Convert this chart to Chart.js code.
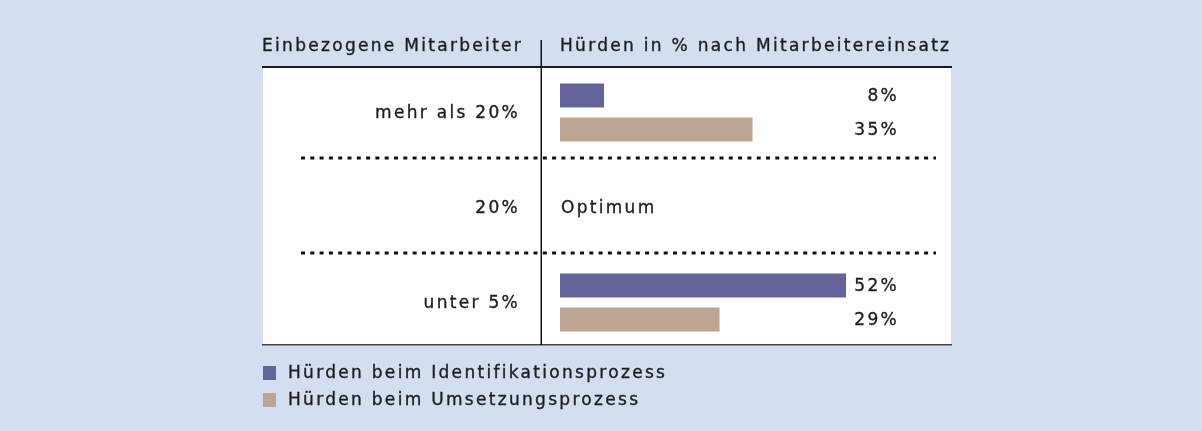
<!DOCTYPE html>
<html>
<head>
<meta charset="utf-8">
<script src="https://cdn.jsdelivr.net/npm/chart.js@4"></script>
<style>
body { margin: 0; background: #d3def0; }
</style>
</head>
<body>
<canvas id="chart" width="1202" height="431"></canvas>
<script>
const categories = ['mehr als 20%', '20%', 'unter 5%'];
const seriesNames = ['Hürden beim Identifikationsprozess', 'Hürden beim Umsetzungsprozess'];
const identifikation = [8, null, 52];
const umsetzung = [35, null, 29];
const headerLeft = 'Einbezogene Mitarbeiter';
const headerRight = 'Hürden in % nach Mitarbeitereinsatz';
const middleNote = 'Optimum';

const colors = ['#63649a', '#bea592'];
const textColor = '#1e1e1e';
const fontFamily = '"DejaVu Sans", sans-serif';

function label(ctx, text, x, y, align) {
    ctx.save();
    ctx.letterSpacing = '2.3px';
    ctx.font = '17px ' + fontFamily;
    ctx.fillStyle = textColor;
    ctx.strokeStyle = textColor;
    ctx.lineWidth = 0.35;
    ctx.textAlign = align || 'left';
    ctx.textBaseline = 'middle';
    ctx.fillText(text, x, y + 1);
    ctx.strokeText(text, x, y + 1);
    ctx.restore();
}

const framePlugin = {
    id: 'frame',
    beforeDraw(chart) {
        let ctx = chart.ctx;
        ctx.save();
        ctx.fillStyle = '#d3def0';
        ctx.fillRect(0, 0, chart.width, chart.height);
        // white panel
        ctx.fillStyle = '#ffffff';
        ctx.fillRect(263, 68, 688, 277);
        ctx.restore();
    },
    afterDraw(chart) {
        let ctx = chart.ctx;
        let y = chart.scales.y;
        ctx.save();
        // header rule and bottom rule
        ctx.fillStyle = '#1a1a1a';
        ctx.fillRect(262, 66, 690, 2);
        ctx.fillStyle = '#444';
        ctx.fillRect(262, 344, 690, 1.5);
        // vertical divider
        ctx.fillStyle = '#111';
        ctx.fillRect(540.5, 40, 1.5, 305);
        // dotted separators between categories
        ctx.strokeStyle = '#111';
        ctx.lineWidth = 3;
        ctx.setLineDash([4, 5.3]);
        for (let i = 0; i < categories.length - 1; i++) {
            let py = Math.round((y.getPixelForValue(i) + y.getPixelForValue(i + 1)) / 2) - 2;
            ctx.beginPath();
            ctx.moveTo(301, py);
            ctx.lineTo(936, py);
            ctx.stroke();
        }
        ctx.restore();

        label(ctx, headerLeft, 262, 46);
        label(ctx, headerRight, 560, 46);

        // category labels
        categories.forEach((c, i) => {
            label(ctx, c, 520, y.getPixelForValue(i), 'right');
        });

        // value labels
        chart.data.datasets.forEach((ds, i) => {
            chart.getDatasetMeta(i).data.forEach((bar, j) => {
                if (ds.data[j] == null) return;
                label(ctx, ds.data[j] + '%', 899, bar.y, 'right');
            });
        });
        label(ctx, middleNote, 561, y.getPixelForValue(1));

        // legend
        chart.data.datasets.forEach((ds, i) => {
            let ly = 373 + i * 27;
            ctx.save();
            ctx.fillStyle = ds.backgroundColor;
            ctx.fillRect(263, ly - 7, 13, 14);
            ctx.restore();
            label(ctx, ds.label, 288, ly);
        });
    }
};

new Chart(document.getElementById('chart'), {
    type: 'bar',
    data: {
        labels: categories,
        datasets: [
            { label: seriesNames[0], data: identifikation, backgroundColor: colors[0] },
            { label: seriesNames[1], data: umsetzung, backgroundColor: colors[1] }
        ]
    },
    options: {
        indexAxis: 'y',
        responsive: false,
        animation: false,
        categoryPercentage: 0.716,
        barPercentage: 0.706,
        layout: { padding: { top: 65, bottom: 81, right: 312, left: 0 } },
        plugins: { legend: { display: false }, tooltip: { enabled: false } },
        scales: {
            x: { display: false, min: 0, max: 60 },
            y: {
                afterFit(scale) { scale.width = 560; },
                grid: { display: false },
                border: { display: false },
                ticks: { display: false }
            }
        }
    },
    plugins: [framePlugin]
});
</script>
</body>
</html>
